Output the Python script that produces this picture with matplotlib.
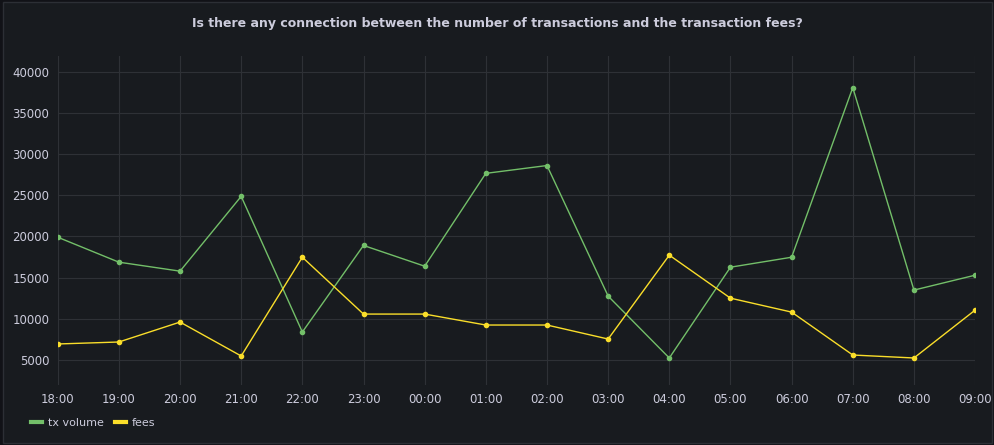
import matplotlib
matplotlib.use("Agg")
import matplotlib.pyplot as plt

hours = ["18:00","19:00","20:00","21:00","22:00","23:00","00:00","01:00","02:00","03:00","04:00","05:00","06:00","07:00","08:00","09:00"]
tx_volume = [19900,16870,15780,24860,8390,18900,16380,27650,28600,12750,5240,16260,17470,38060,13480,15290]
fees = [6940,7180,9600,5480,17470,10570,10570,9240,9240,7540,17720,12500,10810,5600,5240,11050]

bg = "#181b1f"
fig = plt.figure(figsize=(9.95,4.45), dpi=100, facecolor="#111217")
panel = plt.Rectangle((0.003,0.005),0.994,0.99, transform=fig.transFigure, facecolor=bg, edgecolor="#2c2f35", lw=1, zorder=-10)
fig.patches.append(panel)
ax = fig.add_axes([0.058, 0.135, 0.922, 0.74], facecolor=bg)
x = list(range(len(hours)))
ax.plot(x, tx_volume, color="#73bf69", lw=1, marker="o", ms=3, label="tx volume")
ax.plot(x, fees, color="#fade2a", lw=1, marker="o", ms=3, label="fees")
ax.set_xlim(0, len(hours)-1)
ax.set_ylim(1970, 41940)
ax.set_yticks([5000,10000,15000,20000,25000,30000,35000,40000])
ax.set_xticks(x)
ax.set_xticklabels(hours)
ax.grid(True, color="#2e3136", lw=0.8)
for s in ax.spines.values():
    s.set_visible(False)
ax.tick_params(colors="#ccccdc", labelsize=8.5, length=0, pad=6)
fig.text(0.5, 0.948, "Is there any connection between the number of transactions and the transaction fees?",
         ha="center", va="center", color="#ccccdc", fontsize=9, fontweight="bold")
leg = ax.legend(loc="upper left", bbox_to_anchor=(-0.04, -0.07), ncol=2, frameon=False,
                fontsize=8, labelcolor="#ccccdc", handlelength=1.0, handletextpad=0.5, columnspacing=1.0)
for h in leg.get_lines():
    h.set_marker(""); h.set_linewidth(3)
fig.savefig("out.png", dpi=100, facecolor=fig.get_facecolor())
